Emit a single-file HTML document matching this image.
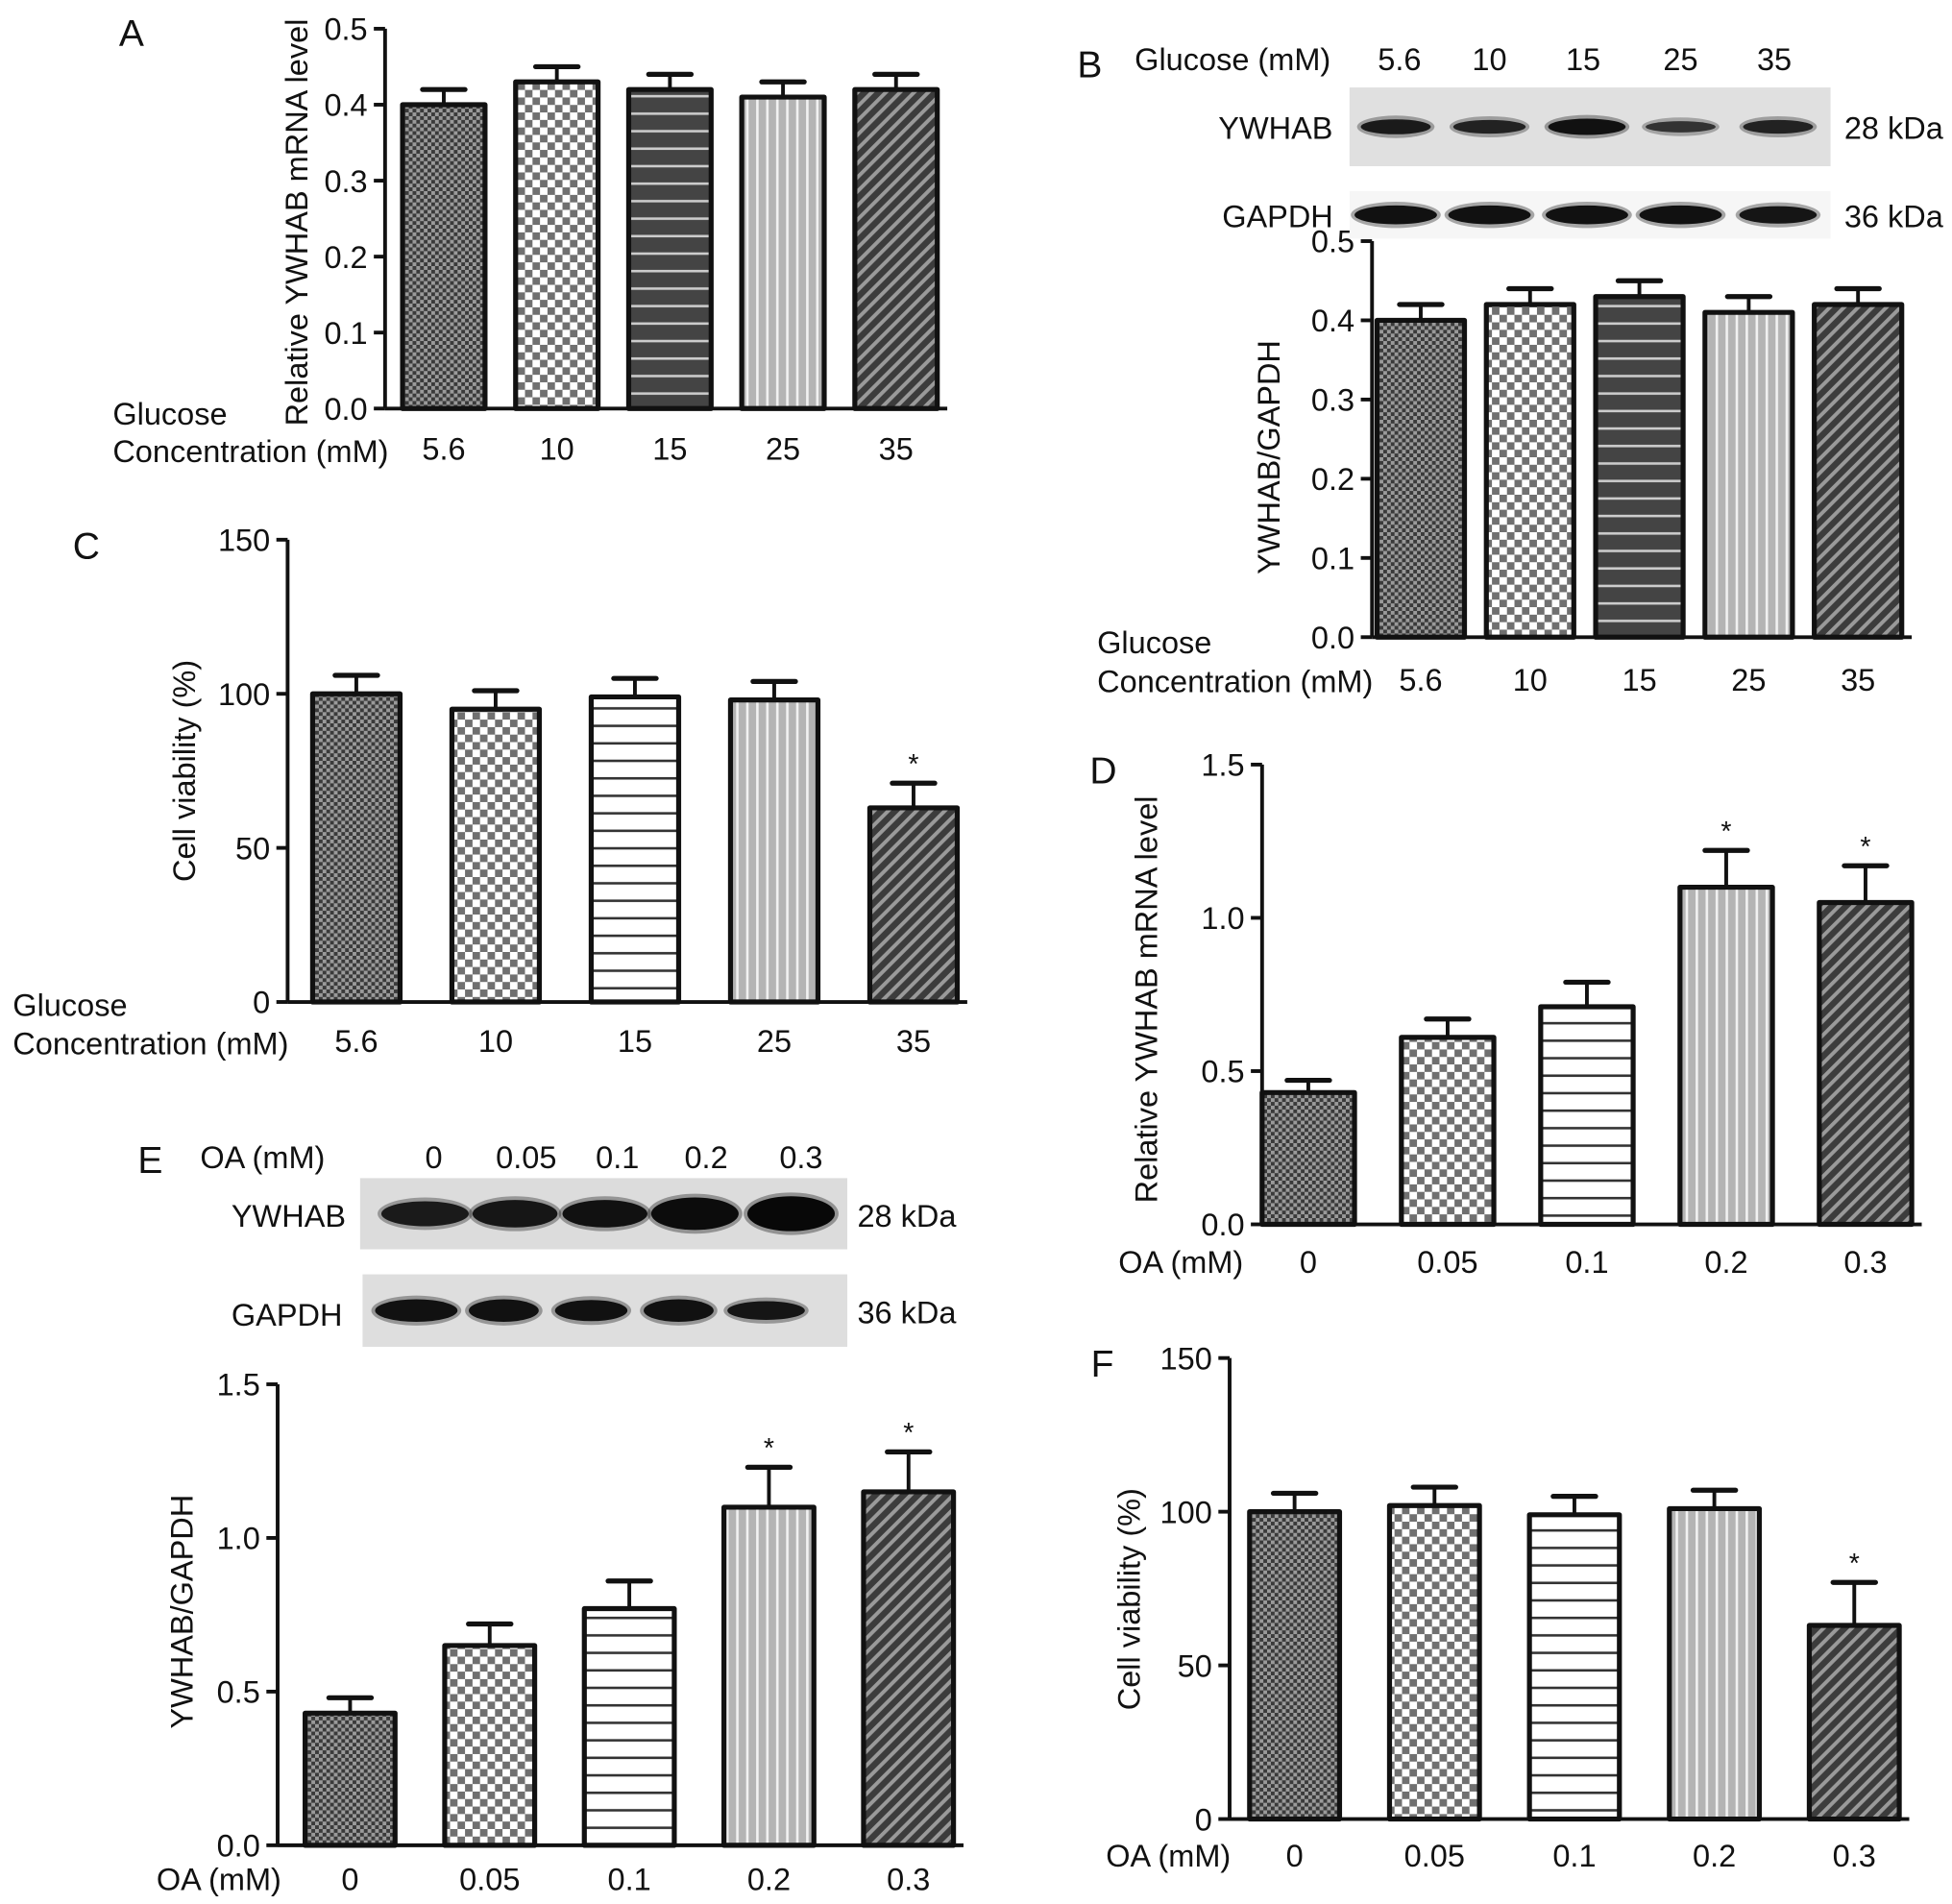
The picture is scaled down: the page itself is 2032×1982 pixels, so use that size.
<!DOCTYPE html>
<html><head><meta charset="utf-8"><style>
html,body{margin:0;padding:0;background:#fff}
svg{display:block}
text{font-family:"Liberation Sans",sans-serif;fill:#111}
</style></head><body>
<svg id="fig" width="2032" height="1982" viewBox="0 0 1562 1524" xmlns="http://www.w3.org/2000/svg">
<defs>
<pattern id="p1" width="6" height="6" patternUnits="userSpaceOnUse"><rect width="6" height="6" fill="#3a3a3a"/><rect width="3" height="3" fill="#9a9a9a"/><rect x="3" y="3" width="3" height="3" fill="#9a9a9a"/></pattern>
<pattern id="p2" width="12" height="12" patternUnits="userSpaceOnUse"><rect width="12" height="12" fill="#fff"/><rect width="6" height="6" fill="#707070"/><rect x="6" y="6" width="6" height="6" fill="#707070"/></pattern>
<pattern id="p3d" width="10" height="14" patternUnits="userSpaceOnUse"><rect width="10" height="14" fill="#444"/><rect y="6" width="10" height="2" fill="#ccc"/></pattern>
<pattern id="p3l" width="10" height="14" patternUnits="userSpaceOnUse"><rect width="10" height="14" fill="#fff"/><rect y="6" width="10" height="2" fill="#333"/></pattern>
<pattern id="p4" width="8" height="10" patternUnits="userSpaceOnUse"><rect width="8" height="10" fill="#b4b4b4"/><rect x="5" width="2" height="10" fill="#f2f2f2"/></pattern>
<pattern id="p5" width="8" height="8" patternUnits="userSpaceOnUse" patternTransform="rotate(45)"><rect width="8" height="8" fill="#3c3c3c"/><rect width="3" height="8" fill="#9a9a9a"/></pattern>
</defs>
</svg>
<script>
// Panel data
const glucoseCats = ["5.6","10","15","25","35"];
const oaCats = ["0","0.05","0.1","0.2","0.3"];
const aValues = [0.40,0.43,0.42,0.41,0.42];
const aErrors = [0.02,0.02,0.02,0.02,0.02];
const aTicks = ["0.0","0.1","0.2","0.3","0.4","0.5"];
const bValues = [0.40,0.42,0.43,0.41,0.42];
const bErrors = [0.02,0.02,0.02,0.02,0.02];
const bTicks = ["0.0","0.1","0.2","0.3","0.4","0.5"];
const cValues = [100,95,99,98,63];
const cErrors = [6,6,6,6,8];
const cStars = [false,false,false,false,true];
const cTicks = ["0","50","100","150"];
const dValues = [0.43,0.61,0.71,1.10,1.05];
const dErrors = [0.04,0.06,0.08,0.12,0.12];
const dStars = [false,false,false,true,true];
const dTicks = ["0.0","0.5","1.0","1.5"];
const eValues = [0.43,0.65,0.77,1.10,1.15];
const eErrors = [0.05,0.07,0.09,0.13,0.13];
const eStars = [false,false,false,true,true];
const eTicks = ["0.0","0.5","1.0","1.5"];
const fValues = [100,102,99,101,63];
const fErrors = [6,6,6,6,14];
const fStars = [false,false,false,false,true];
const fTicks = ["0","50","100","150"];

const NS="http://www.w3.org/2000/svg";
const FS=25;
const svg=document.getElementById('fig');
function mk(tag,attrs,parent,txt){const e=document.createElementNS(NS,tag);for(const k in attrs)e.setAttribute(k,attrs[k]);if(txt!==undefined)e.textContent=txt;(parent||svg).appendChild(e);return e;}
function txt(x,y,s,size,anchor,parent,name){const t=mk('text',{x:x,y:y,'font-size':size||FS,'text-anchor':anchor||'start'},parent,s);


return t;}

function chart(o){
  const g=mk('g',{});
  
  
  const ymax=o.ymax;
  const Y=v=>o.y0-(v/ymax)*(o.y0-o.ytop);
  const X=i=>o.x0+o.first+i*o.step;
  const ax=mk('line',{x1:o.x0,y1:o.ytop,x2:o.x0,y2:o.y0,stroke:'#111','stroke-width':3},g);
  
  
  const xa=mk('line',{x1:o.x0,y1:o.y0,x2:X(4)+o.bw/2+8,y2:o.y0,stroke:'#111','stroke-width':3},g);
  
  
  o.ticks.forEach(t=>{const v=parseFloat(t);const y=Y(v);
    mk('line',{x1:o.x0-9,y1:y,x2:o.x0,y2:y,stroke:'#111','stroke-width':3},g);
    txt(o.x0-14,y+9,t,FS,'end',g,'y-tick-label');});
  o.values.forEach((v,i)=>{
    const cx=X(i),top=Y(v),et=Y(v+o.errors[i]);
    const eb=mk('line',{x1:cx,y1:top,x2:cx,y2:et,stroke:'#111','stroke-width':3},g);
    
    
    mk('line',{x1:cx-17,y1:et,x2:cx+17,y2:et,stroke:'#111','stroke-width':4,'stroke-linecap':'round'},g);
    const r=mk('rect',{x:cx-o.bw/2,y:top,width:o.bw,height:o.y0-top,fill:'url(#'+o.pats[i]+')',stroke:'#111','stroke-width':4,'stroke-linejoin':'round'},g);
    
    
    if(o.stars&&o.stars[i]) txt(cx,et-8,'*',22,'middle',g,'significance-star');
    txt(cx,o.labY,o.cats[i],FS,'middle',g,'x-tick-label');
  });
  const yt=txt(0,0,o.ytitle,FS,'middle',g,'y-axis-title');
  yt.setAttribute('transform','translate('+o.ytx+','+o.yty+') rotate(-90)');
  return g;
}
const patsA=['p1','p2','p3d','p4','p5'], patsC=['p1','p2','p3l','p4','p5'];
chart({name:'panel-a-chart',x0:308,y0:327,ytop:23,ymax:0.5,first:47,step:90.5,bw:66,values:aValues,errors:aErrors,ticks:aTicks,cats:glucoseCats,pats:patsA,labY:368,ytitle:'Relative YWHAB mRNA level',ytx:246,yty:178});
chart({name:'panel-b-chart',x0:1098,y0:510,ytop:193,ymax:0.5,first:39,step:87.5,bw:70,values:bValues,errors:bErrors,ticks:bTicks,cats:glucoseCats,pats:patsA,labY:553,ytitle:'YWHAB/GAPDH',ytx:1024,yty:366});
chart({name:'panel-c-chart',x0:230,y0:802,ytop:432,ymax:150,first:55,step:111.5,bw:70,values:cValues,errors:cErrors,stars:cStars,ticks:cTicks,cats:glucoseCats,pats:patsC,labY:842,ytitle:'Cell viability (%)',ytx:156,yty:617});
chart({name:'panel-d-chart',x0:1010,y0:980,ytop:612,ymax:1.5,first:37,step:111.5,bw:74,values:dValues,errors:dErrors,stars:dStars,ticks:dTicks,cats:oaCats,pats:patsC,labY:1019,ytitle:'Relative YWHAB mRNA level',ytx:926,yty:800});
chart({name:'panel-e-chart',x0:222,y0:1477,ytop:1108,ymax:1.5,first:58,step:111.75,bw:72,values:eValues,errors:eErrors,stars:eStars,ticks:eTicks,cats:oaCats,pats:patsC,labY:1513,ytitle:'YWHAB/GAPDH',ytx:154,yty:1290});
chart({name:'panel-f-chart',x0:984,y0:1456,ytop:1087,ymax:150,first:52,step:112,bw:72,values:fValues,errors:fErrors,stars:fStars,ticks:fTicks,cats:oaCats,pats:patsC,labY:1494,ytitle:'Cell viability (%)',ytx:912,yty:1280});

[['A',95,37],['B',862,62],['C',58,447],['D',872,627],['E',110,939],['F',873,1102]].forEach(p=>txt(p[1],p[2],p[0],30,'start',svg,'panel-label-'+p[0].toLowerCase()));
txt(90,340,'Glucose',FS,'start',svg,'x-axis-title');
txt(90,370,'Concentration (mM)',FS,'start',svg,'x-axis-title');
txt(878,523,'Glucose',FS,'start',svg,'x-axis-title');
txt(878,554,'Concentration (mM)',FS,'start',svg,'x-axis-title');
txt(10,813,'Glucose',FS,'start',svg,'x-axis-title');
txt(10,844,'Concentration (mM)',FS,'start',svg,'x-axis-title');
txt(895,1019,'OA (mM)',FS,'start',svg,'x-axis-title');
txt(125,1513,'OA (mM)',FS,'start',svg,'x-axis-title');
txt(885,1494,'OA (mM)',FS,'start',svg,'x-axis-title');

function blot(name,x,y,w,h,bg,lanes,bw,bh,col){
  const g=mk('g',{});
  
  
  mk('rect',{x:x,y:y,width:w,height:h,fill:bg},g);
  lanes.forEach((lx,i)=>{
    mk('ellipse',{cx:lx,cy:y+h/2,rx:bw[i]/2+3,ry:bh[i]/2+3,fill:col[i],opacity:0.35},g);
    const b=mk('ellipse',{cx:lx,cy:y+h/2,rx:bw[i]/2,ry:bh[i]/2,fill:col[i]},g);
    
    });
}
txt(908,56,'Glucose (mM)',FS,'start',svg,'blot-header');
const bl=[1120,1192,1267,1345,1420];
glucoseCats.forEach((c,i)=>txt(bl[i],56,c,FS,'middle',svg,'lane-label'));
blot('ywhab-blot-b',1080,70,385,63,'#e0e0e0',[1117,1192,1270,1345,1423],[56,58,62,56,56],[12,11,13,9,11],['#1a1a1a','#222','#111','#333','#222']);
blot('gapdh-blot-b',1080,153,385,38,'#f6f6f6',[1117,1192,1270,1345,1423],[66,66,66,66,62],[15,15,15,15,14],['#111','#111','#111','#111','#151515']);
txt(975,111,'YWHAB',FS,'start',svg,'protein-label');
txt(978,182,'GAPDH',FS,'start',svg,'protein-label');
txt(1476,111,'28 kDa',FS,'start',svg,'mw-label');
txt(1476,182,'36 kDa',FS,'start',svg,'mw-label');
txt(160,935,'OA (mM)',FS,'start',svg,'blot-header');
const el=[347,421,494,565,641];
oaCats.forEach((c,i)=>txt(el[i],935,c,FS,'middle',svg,'lane-label'));
blot('ywhab-blot-e',288,943,390,57,'#dcdcdc',[340,412,484,556,633],[70,68,68,70,70],[20,22,22,26,28],['#1a1a1a','#161616','#111','#0c0c0c','#080808']);
blot('gapdh-blot-e',290,1020,388,58,'#dedede',[333,403,473,543,613],[66,56,58,56,62],[18,18,17,18,15],['#111','#111','#111','#111','#151515']);
txt(185,982,'YWHAB',FS,'start',svg,'protein-label');
txt(185,1061,'GAPDH',FS,'start',svg,'protein-label');
txt(686,982,'28 kDa',FS,'start',svg,'mw-label');
txt(686,1059,'36 kDa',FS,'start',svg,'mw-label');
</script>
</body></html>
